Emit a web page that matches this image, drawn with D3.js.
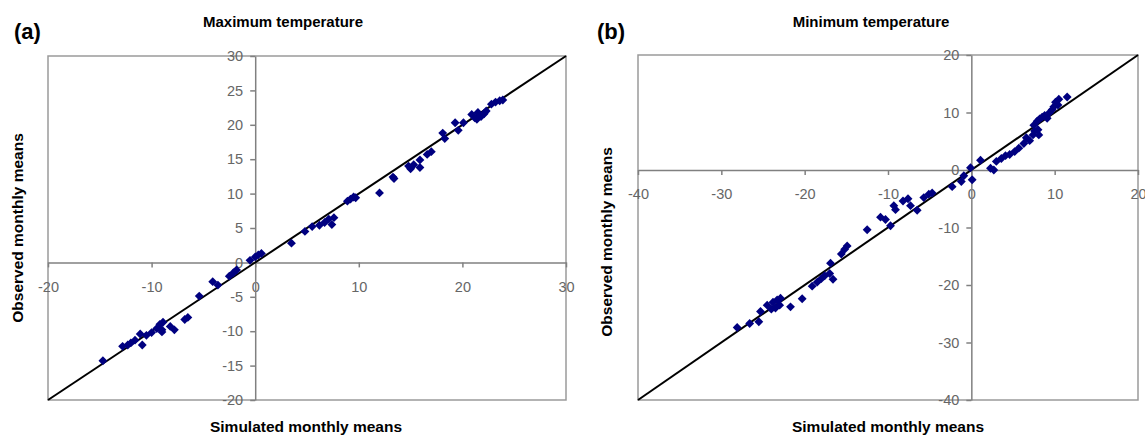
<!DOCTYPE html>
<html>
<head>
<meta charset="utf-8">
<script src="https://cdn.jsdelivr.net/npm/d3@7"></script>
<style>
  body { margin: 0; background: #fff; }
  svg { display: block; font-family: "Liberation Sans", Arial, sans-serif; }
  .tick text { fill: #666; font-size: 14.5px; }
  .tick line, .domain { stroke: #808080; stroke-width: 1.5; }
</style>
</head>
<body>
<svg></svg>
<script>
const width = 1145;
const height = 438;

// (a) maximum temperature: simulated vs observed monthly means
const maxSim = [-14.7, -12.8, -12.3, -12.0, -11.6, -10.9, -11.1, -10.5, -10.0, -9.5, -9.2, -8.9, -9.0,
  -9.0, -8.2, -7.8, -6.8, -6.5, -5.4, -4.1, -3.6, -2.5, -2.1, -1.8, -0.5, 0.0, 0.3, 0.6,
  3.5, 4.8, 5.5, 6.2, 6.7, 7.1, 7.4, 7.6, 8.9, 9.2, 9.5, 9.7, 12.0, 13.4, 13.3, 14.8, 15.0,
  15.3, 15.9, 15.9, 16.6, 17.0, 18.1, 18.3, 19.3, 19.6, 20.1, 20.9, 21.2, 21.5, 21.8, 22.1,
  22.3, 21.4, 22.8, 23.2, 23.6, 23.9];
const maxObs = [-14.3, -12.2, -12.0, -11.7, -11.3, -12.0, -10.4, -10.6, -10.2, -9.6, -9.0, -8.7, -9.8,
  -10.1, -9.3, -9.8, -8.3, -8.0, -4.9, -2.8, -3.3, -2.0, -1.5, -1.1, 0.3, 0.8, 1.1, 1.3,
  2.8, 4.5, 5.2, 5.4, 5.8, 6.3, 5.5, 6.5, 8.9, 9.2, 9.5, 9.4, 10.1, 12.2, 12.4, 14.0, 13.6,
  14.2, 14.9, 13.8, 15.7, 16.1, 18.8, 18.0, 20.3, 19.2, 20.3, 21.5, 21.0, 21.8, 21.2, 21.6,
  22.0, 20.8, 23.0, 23.3, 23.5, 23.6];

// (b) minimum temperature
const minSim = [-28.1, -26.6, -25.5, -25.3, -24.5, -24.0, -23.8, -23.5, -23.3, -23.0, -22.9, -21.7,
  -20.3, -19.1, -18.5, -18.0, -17.6, -17.0, -16.6, -16.9, -15.6, -15.2, -14.9, -12.5, -10.9,
  -10.3, -9.7, -9.3, -9.1, -8.2, -7.6, -7.3, -6.5, -5.7, -5.1, -4.7, -2.3, -1.2, -0.9, -0.1,
  0.1, 1.1, 2.3, 2.7, 3.0, 3.6, 4.1, 4.6, 5.2, 5.7, 6.3, 6.6, 7.0, 7.4, 7.6, 8.0, 8.1, 7.5,
  7.9, 8.2, 8.5, 8.8, 9.1, 9.4, 9.7, 9.9, 10.1, 10.4, 10.5, 11.5];
const minObs = [-27.4, -26.7, -26.4, -24.6, -23.5, -24.2, -23.0, -24.0, -22.6, -23.5, -22.3, -23.8,
  -22.4, -20.2, -19.5, -18.9, -18.4, -18.0, -19.0, -16.2, -14.6, -13.8, -13.2, -10.4, -8.2,
  -8.6, -9.7, -6.2, -6.9, -5.4, -5.0, -6.2, -7.0, -4.8, -4.2, -4.0, -2.9, -2.0, -1.0, 0.4,
  -1.7, 1.7, 0.3, 0.0, 1.5, 2.0, 2.5, 2.7, 3.2, 3.8, 4.6, 5.6, 5.1, 6.1, 6.8, 7.0, 6.1, 7.8,
  8.5, 8.9, 9.2, 9.5, 9.0, 10.0, 10.5, 11.0, 11.8, 11.3, 12.3, 12.7];

const maxTicksX = [-20, -10, 0, 10, 20, 30];
const maxTicksY = [-20, -15, -10, -5, 0, 5, 10, 15, 20, 25, 30];
const minTicks = [-40, -30, -20, -10, 0, 10, 20];

const svg = d3.select("svg").attr("width", width).attr("height", height);

const panels = [
  {
    tag: "(a)", title: "Maximum temperature", sim: maxSim, obs: maxObs,
    xDomain: [-20, 30], yDomain: [-20, 30], xTicks: maxTicksX, yTicks: maxTicksY,
    left: 48, right: 566, top: 56, bottom: 400,
    tagX: 14, titleX: 283, yLabelX: 23, yLabelY: 228, xLabelX: 306
  },
  {
    tag: "(b)", title: "Minimum temperature", sim: minSim, obs: minObs,
    xDomain: [-40, 20], yDomain: [-40, 20], xTicks: minTicks, yTicks: minTicks,
    left: 638, right: 1138, top: 55, bottom: 400,
    tagX: 597, titleX: 871, yLabelX: 612, yLabelY: 242, xLabelX: 888
  }
];

const fmt = (d) => String(d);

panels.forEach((p) => {
  const x = d3.scaleLinear().domain(p.xDomain).range([p.left, p.right]);
  const y = d3.scaleLinear().domain(p.yDomain).range([p.bottom, p.top]);
  const g = svg.append("g");

  // plot area frame
  g.append("rect")
    .attr("x", p.left).attr("y", p.top)
    .attr("width", p.right - p.left).attr("height", p.bottom - p.top)
    .attr("fill", "none").attr("stroke", "#9a9a9a").attr("stroke-width", 1.5);

  // axes crossing at zero
  g.append("g")
    .attr("transform", `translate(0,${y(0)})`)
    .call(d3.axisBottom(x).tickValues(p.xTicks).tickFormat(fmt)
      .tickSize(5).tickSizeOuter(0).tickPadding(14));

  g.append("g")
    .attr("transform", `translate(${x(0)},0)`)
    .call(d3.axisLeft(y).tickValues(p.yTicks).tickFormat(fmt)
      .tickSize(5).tickSizeOuter(0).tickPadding(7));

  // 1:1 line
  const lo = Math.max(p.xDomain[0], p.yDomain[0]);
  const hi = Math.min(p.xDomain[1], p.yDomain[1]);
  g.append("line")
    .attr("x1", x(lo)).attr("y1", y(lo))
    .attr("x2", x(hi)).attr("y2", y(hi))
    .attr("stroke", "#000").attr("stroke-width", 2);

  // points
  const pts = p.sim.map((s, i) => ({ s: s, o: p.obs[i] }));
  g.append("g").selectAll("path")
    .data(pts)
    .enter()
    .append("path")
    .attr("d", d3.symbol().type(d3.symbolDiamond2).size(50))
    .attr("transform", (d) => `translate(${x(d.s)},${y(d.o)})`)
    .attr("fill", "#000080");

  // texts
  g.append("text").text(p.tag)
    .attr("x", p.tagX).attr("y", 39)
    .attr("font-size", 22).attr("font-weight", "bold");

  g.append("text").text(p.title)
    .attr("x", p.titleX).attr("y", 27)
    .attr("text-anchor", "middle")
    .attr("font-size", 15).attr("font-weight", "bold");

  g.append("text").text("Observed monthly means")
    .attr("transform", `translate(${p.yLabelX},${p.yLabelY}) rotate(-90)`)
    .attr("text-anchor", "middle")
    .attr("font-size", 15.5).attr("font-weight", "bold");

  g.append("text").text("Simulated monthly means")
    .attr("x", p.xLabelX).attr("y", 432)
    .attr("text-anchor", "middle")
    .attr("font-size", 15.5).attr("font-weight", "bold");
});
</script>
</body>
</html>
